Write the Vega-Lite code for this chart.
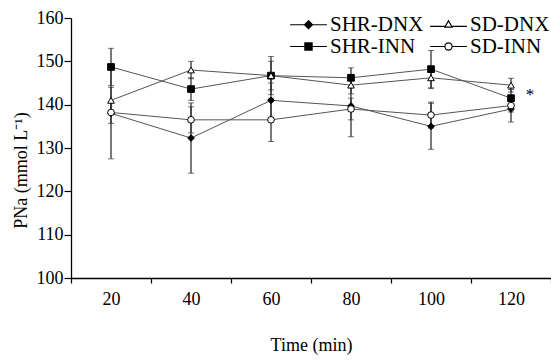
{
  "$schema": "https://vega.github.io/schema/vega-lite/v6.json",
  "width": 480,
  "height": 260,
  "autosize": {"type": "none"},
  "padding": {"left": 71, "top": 18, "right": 0, "bottom": 82},
  "background": "white",
  "config": {
    "view": {"stroke": null},
    "font": "Liberation Serif",
    "axis": {
      "labelFont": "Liberation Serif",
      "titleFont": "Liberation Serif",
      "labelFontSize": 18,
      "titleFontSize": 18,
      "titleFontWeight": "normal",
      "labelColor": "black",
      "titleColor": "black",
      "domainColor": "black",
      "tickColor": "black",
      "domainWidth": 1.3,
      "tickWidth": 1.2,
      "grid": false
    },
    "legend": {
      "labelFont": "Liberation Serif",
      "labelFontSize": 21,
      "labelColor": "black",
      "title": null,
      "orient": "none",
      "direction": "horizontal",
      "legendX": 227,
      "legendY": -4,
      "columns": 2,
      "padding": 0,
      "columnPadding": 3,
      "rowPadding": 0,
      "symbolSize": 256,
      "labelOffset": 11,
      "symbolStrokeWidth": 1.2
    }
  },
  "data": {
    "values": [
      {"series": "SHR-DNX", "time": 20, "mean": 138.0, "lo": 127.5, "hi": 148.5},
      {"series": "SHR-DNX", "time": 40, "mean": 132.3, "lo": 124.2, "hi": 140.4},
      {"series": "SHR-DNX", "time": 60, "mean": 141.0, "lo": 137.0, "hi": 145.0},
      {"series": "SHR-DNX", "time": 80, "mean": 139.7, "lo": 132.6, "hi": 146.8},
      {"series": "SHR-DNX", "time": 100, "mean": 135.0, "lo": 129.7, "hi": 140.3},
      {"series": "SHR-DNX", "time": 120, "mean": 139.0, "lo": 136.0, "hi": 142.0},
      {"series": "SHR-INN", "time": 20, "mean": 148.7, "lo": 144.4, "hi": 153.0},
      {"series": "SHR-INN", "time": 40, "mean": 143.6, "lo": 141.0, "hi": 146.2},
      {"series": "SHR-INN", "time": 60, "mean": 146.7, "lo": 142.3, "hi": 151.1},
      {"series": "SHR-INN", "time": 80, "mean": 146.2, "lo": 144.0, "hi": 148.5},
      {"series": "SHR-INN", "time": 100, "mean": 148.2, "lo": 143.9, "hi": 152.5},
      {"series": "SHR-INN", "time": 120, "mean": 141.5, "lo": 139.5, "hi": 143.5},
      {"series": "SD-DNX", "time": 20, "mean": 141.0, "lo": 138.0, "hi": 144.0},
      {"series": "SD-DNX", "time": 40, "mean": 148.0, "lo": 146.0, "hi": 150.0},
      {"series": "SD-DNX", "time": 60, "mean": 146.7, "lo": 143.4, "hi": 150.0},
      {"series": "SD-DNX", "time": 80, "mean": 144.5, "lo": 142.5, "hi": 146.5},
      {"series": "SD-DNX", "time": 100, "mean": 146.2, "lo": 143.7, "hi": 148.7},
      {"series": "SD-DNX", "time": 120, "mean": 144.5, "lo": 142.9, "hi": 146.1},
      {"series": "SD-INN", "time": 20, "mean": 138.2, "lo": 135.7, "hi": 140.7},
      {"series": "SD-INN", "time": 40, "mean": 136.5, "lo": 133.5, "hi": 139.5},
      {"series": "SD-INN", "time": 60, "mean": 136.5, "lo": 131.5, "hi": 141.5},
      {"series": "SD-INN", "time": 80, "mean": 139.0, "lo": 136.5, "hi": 141.5},
      {"series": "SD-INN", "time": 100, "mean": 137.6, "lo": 134.6, "hi": 140.6},
      {"series": "SD-INN", "time": 120, "mean": 139.8, "lo": 138.3, "hi": 141.3}
    ]
  },
  "encoding": {
    "x": {
      "field": "time",
      "type": "ordinal",
      "scale": {"type": "band", "paddingInner": 0, "paddingOuter": 0},
      "axis": {
        "title": "Time (min)",
        "labelAngle": 0,
        "tickBand": "extent",
        "tickSize": 5,
        "labelPadding": 7,
        "titlePadding": 28
      }
    }
  },
  "layer": [
    {
      "mark": {"type": "line", "color": "#555555", "strokeWidth": 1},
      "encoding": {
        "y": {
          "field": "mean",
          "type": "quantitative",
          "scale": {"domain": [100, 160], "nice": false, "zero": false},
          "axis": {
            "title": "PNa (mmol L⁻¹)",
            "values": [100, 110, 120, 130, 140, 150, 160],
            "tickSize": 7,
            "labelPadding": 1,
            "titlePadding": 6,
            "titleY": 152
          }
        },
        "detail": {"field": "series"}
      }
    },
    {
      "mark": {"type": "rule", "color": "#333333", "strokeWidth": 1.3},
      "encoding": {
        "y": {"field": "lo", "type": "quantitative"},
        "y2": {"field": "hi"}
      }
    },
    {
      "mark": {"type": "tick", "color": "#333333", "size": 6, "thickness": 1, "orient": "horizontal"},
      "encoding": {"y": {"field": "lo", "type": "quantitative"}}
    },
    {
      "mark": {"type": "tick", "color": "#333333", "size": 6, "thickness": 1, "orient": "horizontal"},
      "encoding": {"y": {"field": "hi", "type": "quantitative"}}
    },
    {
      "mark": {"type": "point", "filled": true, "size": 45, "stroke": "black", "strokeWidth": 1, "opacity": 1},
      "encoding": {
        "y": {"field": "mean", "type": "quantitative"},
        "shape": {
          "field": "series",
          "type": "nominal",
          "scale": {
            "domain": ["SHR-DNX", "SD-DNX", "SHR-INN", "SD-INN"],
            "range": ["diamond", "triangle-up", "square", "circle"]
          },
          "legend": null
        },
        "fill": {
          "field": "series",
          "type": "nominal",
          "scale": {
            "domain": ["SHR-DNX", "SD-DNX", "SHR-INN", "SD-INN"],
            "range": ["black", "white", "black", "white"]
          },
          "legend": null
        }
      }
    },
    {
      "transform": [{"filter": "datum.mean < 0"}],
      "mark": {"type": "point", "filled": true, "strokeWidth": 1.2, "opacity": 1},
      "encoding": {
        "y": {"field": "mean", "type": "quantitative"},
        "shape": {
          "field": "series",
          "type": "nominal",
          "scale": {
            "domain": ["SHR-DNX", "SD-DNX", "SHR-INN", "SD-INN"],
            "range": [
              "M-2.3,0L-0.5,0M0.5,0L2.3,0M0,-0.5L0.5,0L0,0.5L-0.5,0Z",
              "M-2.3,0.2L-0.39,0.2M0.39,0.2L2.3,0.2M0,-0.5L0.45,0.3L-0.45,0.3Z",
              "M-2.3,0L-0.45,0M0.45,0L2.3,0M-0.45,-0.45L0.45,-0.45L0.45,0.45L-0.45,0.45Z",
              "M-2.3,0L-0.45,0M0.45,0L2.3,0M0.45,0A0.45,0.45 0 1,1 -0.45,0A0.45,0.45 0 1,1 0.45,0Z"
            ]
          },
          "legend": {}
        },
        "fill": {
          "field": "series",
          "type": "nominal",
          "scale": {
            "domain": ["SHR-DNX", "SD-DNX", "SHR-INN", "SD-INN"],
            "range": ["black", "white", "black", "white"]
          },
          "legend": {}
        },
        "stroke": {
          "field": "series",
          "type": "nominal",
          "scale": {
            "domain": ["SHR-DNX", "SD-DNX", "SHR-INN", "SD-INN"],
            "range": ["black", "black", "black", "black"]
          },
          "legend": {}
        }
      }
    },
    {
      "data": {"values": [{"time": 120, "value": 142.2, "label": "*"}]},
      "mark": {"type": "text", "dx": 19, "fontSize": 17, "font": "Liberation Serif", "color": "black", "baseline": "middle"},
      "encoding": {
        "y": {"field": "value", "type": "quantitative"},
        "text": {"field": "label"}
      }
    }
  ],
  "resolve": {"scale": {"shape": "independent", "fill": "independent", "stroke": "independent"}}
}
